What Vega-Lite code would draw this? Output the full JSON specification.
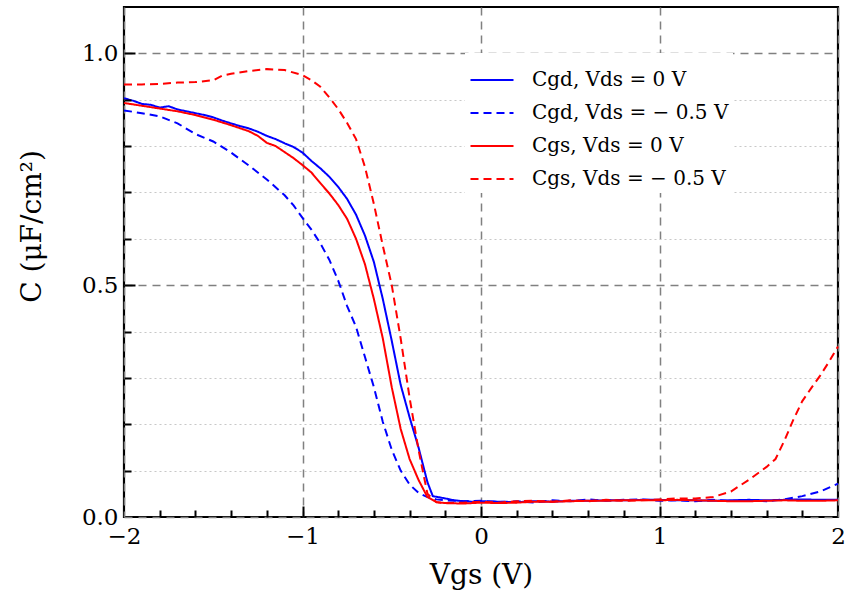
{
"$schema": "https://vega.github.io/schema/vega-lite/v6.json",
"width": 714, "height": 510,
"autosize": {"type": "none"},
"padding": {"left": 124, "top": 7, "right": 17, "bottom": 88},
"background": "white",
"config": {
  "view": {"stroke": "black", "strokeWidth": 2.2},
  "font": "DejaVu Serif",
  "axis": {"domain": false, "tickColor": "black", "tickWidth": 2, "labelFont": "DejaVu Serif", "labelFontSize": 23, "labelColor": "black", "labelFlush": false, "titleFont": "DejaVu Serif", "titleFontSize": 28, "titleFontWeight": "normal", "titleColor": "black"},
  "legend": {"orient": "none", "legendX": 341, "legendY": 46, "symbolType": "stroke", "symbolSize": 1850, "symbolStrokeWidth": 2, "labelFont": "DejaVu Serif", "labelFontSize": 20, "labelColor": "black", "labelLimit": 0, "fillColor": "white", "padding": 4, "rowPadding": 0, "labelOffset": 17}
},
"data": {"values": [
{"series":"gd0","vgs":-2,"c":0.903},{"series":"gd0","vgs":-1.95,"c":0.898},{"series":"gd0","vgs":-1.9,"c":0.891},{"series":"gd0","vgs":-1.85,"c":0.889},{"series":"gd0","vgs":-1.8,"c":0.883},{"series":"gd0","vgs":-1.75,"c":0.886},{"series":"gd0","vgs":-1.7,"c":0.879},{"series":"gd0","vgs":-1.65,"c":0.875},{"series":"gd0","vgs":-1.6,"c":0.871},{"series":"gd0","vgs":-1.55,"c":0.867},{"series":"gd0","vgs":-1.5,"c":0.862},{"series":"gd0","vgs":-1.45,"c":0.855},{"series":"gd0","vgs":-1.4,"c":0.849},{"series":"gd0","vgs":-1.35,"c":0.843},{"series":"gd0","vgs":-1.3,"c":0.838},{"series":"gd0","vgs":-1.25,"c":0.831},{"series":"gd0","vgs":-1.2,"c":0.822},{"series":"gd0","vgs":-1.15,"c":0.815},{"series":"gd0","vgs":-1.1,"c":0.806},{"series":"gd0","vgs":-1.05,"c":0.798},{"series":"gd0","vgs":-1,"c":0.786},{"series":"gd0","vgs":-0.95,"c":0.768},{"series":"gd0","vgs":-0.9,"c":0.752},{"series":"gd0","vgs":-0.85,"c":0.734},{"series":"gd0","vgs":-0.8,"c":0.712},{"series":"gd0","vgs":-0.75,"c":0.686},{"series":"gd0","vgs":-0.7,"c":0.652},{"series":"gd0","vgs":-0.65,"c":0.607},{"series":"gd0","vgs":-0.6,"c":0.55},{"series":"gd0","vgs":-0.55,"c":0.47},{"series":"gd0","vgs":-0.5,"c":0.38},{"series":"gd0","vgs":-0.45,"c":0.285},{"series":"gd0","vgs":-0.4,"c":0.215},{"series":"gd0","vgs":-0.35,"c":0.15},{"series":"gd0","vgs":-0.3,"c":0.075},{"series":"gd0","vgs":-0.27,"c":0.045},{"series":"gd0","vgs":-0.2,"c":0.04},{"series":"gd0","vgs":-0.15,"c":0.036},{"series":"gd0","vgs":-0.1,"c":0.034},{"series":"gd0","vgs":-0.05,"c":0.033},{"series":"gd0","vgs":0,"c":0.034},{"series":"gd0","vgs":0.1,"c":0.033},{"series":"gd0","vgs":0.2,"c":0.032},{"series":"gd0","vgs":0.3,"c":0.034},{"series":"gd0","vgs":0.4,"c":0.033},{"series":"gd0","vgs":0.5,"c":0.035},{"series":"gd0","vgs":0.6,"c":0.035},{"series":"gd0","vgs":0.7,"c":0.036},{"series":"gd0","vgs":0.8,"c":0.036},{"series":"gd0","vgs":0.9,"c":0.037},{"series":"gd0","vgs":1,"c":0.037},{"series":"gd0","vgs":1.1,"c":0.036},{"series":"gd0","vgs":1.2,"c":0.036},{"series":"gd0","vgs":1.3,"c":0.035},{"series":"gd0","vgs":1.4,"c":0.036},{"series":"gd0","vgs":1.5,"c":0.037},{"series":"gd0","vgs":1.6,"c":0.036},{"series":"gd0","vgs":1.7,"c":0.037},{"series":"gd0","vgs":1.8,"c":0.038},{"series":"gd0","vgs":1.9,"c":0.037},{"series":"gd0","vgs":2,"c":0.037},
{"series":"gd5","vgs":-2,"c":0.877},{"series":"gd5","vgs":-1.9,"c":0.871},{"series":"gd5","vgs":-1.8,"c":0.864},{"series":"gd5","vgs":-1.7,"c":0.849},{"series":"gd5","vgs":-1.6,"c":0.826},{"series":"gd5","vgs":-1.5,"c":0.81},{"series":"gd5","vgs":-1.4,"c":0.786},{"series":"gd5","vgs":-1.3,"c":0.758},{"series":"gd5","vgs":-1.2,"c":0.728},{"series":"gd5","vgs":-1.1,"c":0.694},{"series":"gd5","vgs":-1.05,"c":0.672},{"series":"gd5","vgs":-1,"c":0.645},{"series":"gd5","vgs":-0.95,"c":0.62},{"series":"gd5","vgs":-0.9,"c":0.59},{"series":"gd5","vgs":-0.85,"c":0.555},{"series":"gd5","vgs":-0.8,"c":0.51},{"series":"gd5","vgs":-0.75,"c":0.455},{"series":"gd5","vgs":-0.7,"c":0.41},{"series":"gd5","vgs":-0.65,"c":0.345},{"series":"gd5","vgs":-0.6,"c":0.28},{"series":"gd5","vgs":-0.55,"c":0.205},{"series":"gd5","vgs":-0.5,"c":0.145},{"series":"gd5","vgs":-0.45,"c":0.1},{"series":"gd5","vgs":-0.4,"c":0.07},{"series":"gd5","vgs":-0.35,"c":0.052},{"series":"gd5","vgs":-0.3,"c":0.043},{"series":"gd5","vgs":-0.25,"c":0.038},{"series":"gd5","vgs":-0.2,"c":0.036},{"series":"gd5","vgs":-0.1,"c":0.034},{"series":"gd5","vgs":0,"c":0.035},{"series":"gd5","vgs":0.1,"c":0.032},{"series":"gd5","vgs":0.2,"c":0.034},{"series":"gd5","vgs":0.3,"c":0.031},{"series":"gd5","vgs":0.4,"c":0.036},{"series":"gd5","vgs":0.5,"c":0.034},{"series":"gd5","vgs":0.6,"c":0.038},{"series":"gd5","vgs":0.7,"c":0.035},{"series":"gd5","vgs":0.8,"c":0.037},{"series":"gd5","vgs":0.9,"c":0.038},{"series":"gd5","vgs":1,"c":0.035},{"series":"gd5","vgs":1.1,"c":0.036},{"series":"gd5","vgs":1.2,"c":0.034},{"series":"gd5","vgs":1.3,"c":0.037},{"series":"gd5","vgs":1.4,"c":0.035},{"series":"gd5","vgs":1.5,"c":0.036},{"series":"gd5","vgs":1.6,"c":0.034},{"series":"gd5","vgs":1.7,"c":0.038},{"series":"gd5","vgs":1.8,"c":0.045},{"series":"gd5","vgs":1.9,"c":0.055},{"series":"gd5","vgs":2,"c":0.072},
{"series":"gs0","vgs":-2,"c":0.893},{"series":"gs0","vgs":-1.9,"c":0.887},{"series":"gs0","vgs":-1.8,"c":0.881},{"series":"gs0","vgs":-1.7,"c":0.875},{"series":"gs0","vgs":-1.6,"c":0.867},{"series":"gs0","vgs":-1.5,"c":0.857},{"series":"gs0","vgs":-1.4,"c":0.845},{"series":"gs0","vgs":-1.3,"c":0.832},{"series":"gs0","vgs":-1.25,"c":0.822},{"series":"gs0","vgs":-1.2,"c":0.807},{"series":"gs0","vgs":-1.15,"c":0.8},{"series":"gs0","vgs":-1.1,"c":0.787},{"series":"gs0","vgs":-1.05,"c":0.774},{"series":"gs0","vgs":-1,"c":0.759},{"series":"gs0","vgs":-0.95,"c":0.743},{"series":"gs0","vgs":-0.9,"c":0.72},{"series":"gs0","vgs":-0.85,"c":0.698},{"series":"gs0","vgs":-0.8,"c":0.673},{"series":"gs0","vgs":-0.75,"c":0.643},{"series":"gs0","vgs":-0.7,"c":0.6},{"series":"gs0","vgs":-0.65,"c":0.545},{"series":"gs0","vgs":-0.6,"c":0.47},{"series":"gs0","vgs":-0.55,"c":0.385},{"series":"gs0","vgs":-0.5,"c":0.28},{"series":"gs0","vgs":-0.45,"c":0.19},{"series":"gs0","vgs":-0.4,"c":0.125},{"series":"gs0","vgs":-0.35,"c":0.08},{"series":"gs0","vgs":-0.3,"c":0.043},{"series":"gs0","vgs":-0.25,"c":0.032},{"series":"gs0","vgs":-0.2,"c":0.03},{"series":"gs0","vgs":-0.1,"c":0.029},{"series":"gs0","vgs":0,"c":0.031},{"series":"gs0","vgs":0.1,"c":0.03},{"series":"gs0","vgs":0.2,"c":0.031},{"series":"gs0","vgs":0.3,"c":0.033},{"series":"gs0","vgs":0.4,"c":0.033},{"series":"gs0","vgs":0.5,"c":0.034},{"series":"gs0","vgs":0.6,"c":0.035},{"series":"gs0","vgs":0.7,"c":0.035},{"series":"gs0","vgs":0.8,"c":0.036},{"series":"gs0","vgs":0.9,"c":0.036},{"series":"gs0","vgs":1,"c":0.036},{"series":"gs0","vgs":1.1,"c":0.037},{"series":"gs0","vgs":1.2,"c":0.036},{"series":"gs0","vgs":1.3,"c":0.035},{"series":"gs0","vgs":1.4,"c":0.034},{"series":"gs0","vgs":1.5,"c":0.034},{"series":"gs0","vgs":1.6,"c":0.035},{"series":"gs0","vgs":1.7,"c":0.036},{"series":"gs0","vgs":1.8,"c":0.035},{"series":"gs0","vgs":1.9,"c":0.035},{"series":"gs0","vgs":2,"c":0.036},
{"series":"gs5","vgs":-2,"c":0.933},{"series":"gs5","vgs":-1.9,"c":0.933},{"series":"gs5","vgs":-1.8,"c":0.934},{"series":"gs5","vgs":-1.7,"c":0.937},{"series":"gs5","vgs":-1.6,"c":0.938},{"series":"gs5","vgs":-1.5,"c":0.942},{"series":"gs5","vgs":-1.45,"c":0.952},{"series":"gs5","vgs":-1.4,"c":0.956},{"series":"gs5","vgs":-1.3,"c":0.962},{"series":"gs5","vgs":-1.2,"c":0.966},{"series":"gs5","vgs":-1.1,"c":0.964},{"series":"gs5","vgs":-1,"c":0.953},{"series":"gs5","vgs":-0.95,"c":0.942},{"series":"gs5","vgs":-0.9,"c":0.928},{"series":"gs5","vgs":-0.85,"c":0.905},{"series":"gs5","vgs":-0.8,"c":0.88},{"series":"gs5","vgs":-0.75,"c":0.85},{"series":"gs5","vgs":-0.7,"c":0.815},{"series":"gs5","vgs":-0.65,"c":0.755},{"series":"gs5","vgs":-0.6,"c":0.675},{"series":"gs5","vgs":-0.55,"c":0.585},{"series":"gs5","vgs":-0.5,"c":0.5},{"series":"gs5","vgs":-0.45,"c":0.385},{"series":"gs5","vgs":-0.4,"c":0.257},{"series":"gs5","vgs":-0.35,"c":0.145},{"series":"gs5","vgs":-0.3,"c":0.05},{"series":"gs5","vgs":-0.25,"c":0.032},{"series":"gs5","vgs":-0.2,"c":0.03},{"series":"gs5","vgs":-0.1,"c":0.031},{"series":"gs5","vgs":0,"c":0.033},{"series":"gs5","vgs":0.1,"c":0.031},{"series":"gs5","vgs":0.2,"c":0.034},{"series":"gs5","vgs":0.3,"c":0.035},{"series":"gs5","vgs":0.4,"c":0.033},{"series":"gs5","vgs":0.5,"c":0.036},{"series":"gs5","vgs":0.6,"c":0.034},{"series":"gs5","vgs":0.7,"c":0.037},{"series":"gs5","vgs":0.8,"c":0.035},{"series":"gs5","vgs":0.9,"c":0.036},{"series":"gs5","vgs":1,"c":0.038},{"series":"gs5","vgs":1.1,"c":0.04},{"series":"gs5","vgs":1.2,"c":0.04},{"series":"gs5","vgs":1.3,"c":0.043},{"series":"gs5","vgs":1.4,"c":0.055},{"series":"gs5","vgs":1.5,"c":0.08},{"series":"gs5","vgs":1.6,"c":0.108},{"series":"gs5","vgs":1.65,"c":0.125},{"series":"gs5","vgs":1.7,"c":0.165},{"series":"gs5","vgs":1.75,"c":0.21},{"series":"gs5","vgs":1.8,"c":0.25},{"series":"gs5","vgs":1.85,"c":0.278},{"series":"gs5","vgs":1.9,"c":0.305},{"series":"gs5","vgs":1.95,"c":0.335},{"series":"gs5","vgs":2,"c":0.368}
]},
"layer": [
  {
    "mark": {"type": "point", "opacity": 0},
    "encoding": {
      "x": {"field": "vgs", "type": "quantitative", "scale": {"domain": [-2, 2], "nice": false},
        "axis": {"orient": "top", "offset": -510, "values": [-1.8,-1.6,-1.4,-1.2,-0.8,-0.6,-0.4,-0.2,0.2,0.4,0.6,0.8,1.2,1.4,1.6,1.8], "labels": false, "grid": false, "ticks": true, "tickSize": 7, "tickColor": "black", "title": null, "zindex": 1}},
      "y": {"field": "c", "type": "quantitative", "scale": {"domain": [0, 1.1], "nice": false},
        "axis": {"orient": "left", "values": [0.1,0.2,0.3,0.4,0.6,0.7,0.8,0.9], "labels": false, "ticks": false, "grid": true, "gridDash": [2, 3], "gridColor": "#c8c8c8", "gridWidth": 1.2, "title": null}}
    }
  },
  {
    "mark": {"type": "point", "opacity": 0},
    "encoding": {
      "x": {"field": "vgs", "type": "quantitative",
        "axis": {"orient": "top", "offset": -510, "values": [-1, 0, 1], "labels": false, "grid": false, "ticks": true, "tickSize": 11, "tickColor": "black", "title": null, "zindex": 1}},
      "y": {"field": "c", "type": "quantitative",
        "axis": {"orient": "right", "offset": -714, "values": [0.5, 1], "labels": false, "grid": false, "ticks": true, "tickSize": 11, "tickColor": "black", "title": null, "zindex": 1}}
    }
  },
  {
    "mark": {"type": "point", "opacity": 0},
    "encoding": {
      "x": {"field": "vgs", "type": "quantitative", "axis": null},
      "y": {"field": "c", "type": "quantitative",
        "axis": {"orient": "right", "offset": -714, "values": [0.1,0.2,0.3,0.4,0.6,0.7,0.8,0.9], "labels": false, "grid": false, "ticks": true, "tickSize": 7, "tickColor": "black", "title": null, "zindex": 1}}
    }
  },
  {
    "mark": {"type": "line", "strokeWidth": 2},
    "encoding": {
      "x": {"field": "vgs", "type": "quantitative", "scale": {"domain": [-2, 2], "nice": false},
        "axis": {"orient": "bottom", "values": [-2,-1,0,1,2], "format": "d", "grid": true, "gridDash": [8, 6], "gridColor": "#808080", "gridWidth": 1.5, "ticks": false, "labelPadding": 8, "title": "Vgs (V)", "titleY": 66, "titleBaseline": "alphabetic"}},
      "y": {"field": "c", "type": "quantitative", "scale": {"domain": [0, 1.1], "nice": false},
        "axis": {"orient": "left", "values": [0, 0.5, 1], "format": ".1f", "grid": true, "gridDash": [8, 6], "gridColor": "#808080", "gridWidth": 1.5, "ticks": false, "labelPadding": 6, "title": "C (μF/cm²)", "titleX": -92, "titleY": 219, "titleBaseline": "middle", "titleAngle": -90}},
      "color": {"field": "series", "type": "nominal", "scale": {"domain": ["gd0","gd5","gs0","gs5"], "range": ["#0000ff","#0000ff","#ff0000","#ff0000"]},
        "legend": {"title": null, "labelExpr": "datum.label == 'gd0' ? 'Cgd, Vds = 0 V' : datum.label == 'gd5' ? 'Cgd, Vds = − 0.5 V' : datum.label == 'gs0' ? 'Cgs, Vds = 0 V' : 'Cgs, Vds = − 0.5 V'"}},
      "strokeDash": {"field": "series", "type": "nominal", "scale": {"domain": ["gd0","gd5","gs0","gs5"], "range": [[1,0],[8,5],[1,0],[8,5]]},
        "legend": {"title": null, "labelExpr": "datum.label == 'gd0' ? 'Cgd, Vds = 0 V' : datum.label == 'gd5' ? 'Cgd, Vds = − 0.5 V' : datum.label == 'gs0' ? 'Cgs, Vds = 0 V' : 'Cgs, Vds = − 0.5 V'"}}
    }
  }
],
"resolve": {"axis": {"x": "independent", "y": "independent"}}
}
